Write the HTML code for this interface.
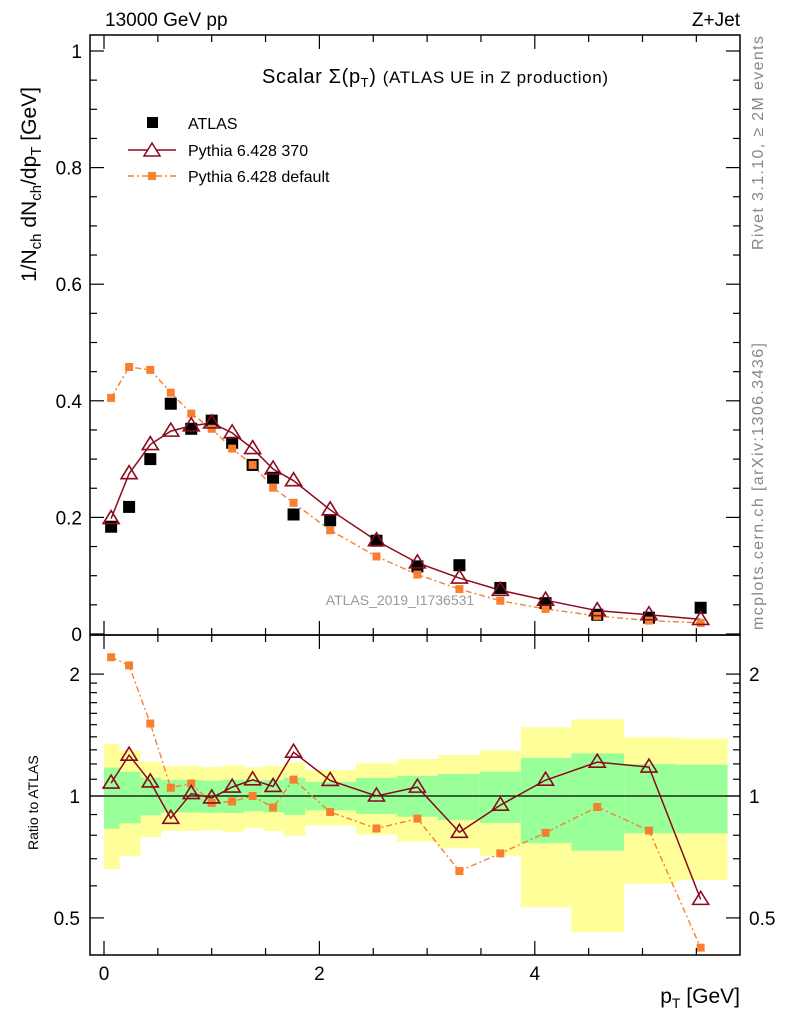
<!DOCTYPE html>
<html><head><meta charset="utf-8"><style>
body{margin:0;background:#fff;}
svg{display:block;font-family:"Liberation Sans",sans-serif;}
</style></head><body>
<svg id="c" width="786" height="1024" xmlns="http://www.w3.org/2000/svg">
<g id="bands"></g>
<g id="marks"></g>
<g id="axes"></g>
<text x="105" y="26" font-size="19">13000 GeV pp</text>
<text x="740" y="26" font-size="19" text-anchor="end">Z+Jet</text>
<text x="262" y="83" font-size="20" textLength="346">Scalar Σ(p<tspan font-size="13" dy="4">T</tspan><tspan dy="-4">) </tspan><tspan font-size="17">(ATLAS UE in Z production)</tspan></text>
<text x="400" y="605" font-size="14" fill="#999" text-anchor="middle">ATLAS_2019_I1736531</text>
<text transform="translate(763,250) rotate(-90)" font-size="16" fill="#888" textLength="214">Rivet 3.1.10, ≥ 2M events</text>
<text transform="translate(763,630) rotate(-90)" font-size="16" fill="#888" textLength="287">mcplots.cern.ch [arXiv:1306.3436]</text>
<text transform="translate(36,282) rotate(-90)" font-size="21">1/N<tspan font-size="15" dy="5">ch</tspan><tspan dy="-5"> dN</tspan><tspan font-size="15" dy="5">ch</tspan><tspan dy="-5">/dp</tspan><tspan font-size="15" dy="5">T</tspan><tspan dy="-5"> [GeV]</tspan></text>
<text transform="translate(38,850) rotate(-90)" font-size="14">Ratio to ATLAS</text>
<text x="740" y="1003" font-size="21" text-anchor="end">p<tspan font-size="14" dy="5">T</tspan><tspan dy="-5"> [GeV]</tspan></text>
<g>
<rect x="147" y="117" width="11" height="11" fill="#000"/>
<text x="188" y="129" font-size="16">ATLAS</text>
<line x1="128" y1="150" x2="176" y2="150" stroke="#8b0a1e" stroke-width="1.5"/>
<polygon points="152,143 160,156 144,156" fill="#fff" stroke="#8b0a1e" stroke-width="1.5"/>
<text x="188" y="156" font-size="16">Pythia 6.428 370</text>
<line x1="128" y1="176" x2="176" y2="176" stroke="#f68030" stroke-width="1.5" stroke-dasharray="6,3,2,3"/>
<rect x="148" y="172" width="8" height="8" fill="#f68030"/>
<text x="188" y="182" font-size="16">Pythia 6.428 default</text>
</g>
</svg>
<script>
const xVals=[0.066,0.233,0.43,0.62,0.81,1.0,1.19,1.38,1.57,1.76,2.1,2.53,2.91,3.3,3.68,4.1,4.58,5.06,5.54];
const atlas=[0.184,0.218,0.300,0.395,0.352,0.366,0.328,0.290,0.268,0.205,0.195,0.160,0.116,0.118,0.079,0.053,0.033,0.028,0.045];
const p370=[0.198,0.275,0.325,0.348,0.357,0.362,0.345,0.318,0.283,0.263,0.213,0.160,0.122,0.096,0.075,0.058,0.040,0.033,0.025];
const pdef=[0.405,0.458,0.453,0.414,0.378,0.352,0.318,0.290,0.251,0.225,0.178,0.133,0.102,0.077,0.057,0.043,0.031,0.023,0.019];
const binEdges=[0,0.144,0.34,0.53,0.73,0.91,1.10,1.30,1.48,1.67,1.87,2.34,2.72,3.10,3.49,3.87,4.34,4.83,5.31,5.79];
const yelHi=[1.344,1.294,1.213,1.186,1.186,1.179,1.191,1.177,1.186,1.211,1.159,1.204,1.234,1.262,1.294,1.478,1.546,1.396,1.388];
const yelLo=[0.660,0.712,0.792,0.820,0.820,0.824,0.816,0.834,0.820,0.798,0.845,0.803,0.771,0.743,0.712,0.531,0.461,0.607,0.620];
const grnHi=[1.175,1.148,1.110,1.095,1.095,1.091,1.097,1.095,1.095,1.110,1.083,1.108,1.121,1.133,1.148,1.241,1.274,1.200,1.195];
const grnLo=[0.830,0.856,0.896,0.911,0.911,0.909,0.908,0.917,0.911,0.898,0.922,0.903,0.889,0.872,0.858,0.765,0.733,0.809,0.809];
const xTicks=[0,2,4];
const yTicks=[0,0.2,0.4,0.6,0.8,1];
const yTickLabels=["0","0.2","0.4","0.6","0.8","1"];
const rTicks=[0.5,1,2];
const rTickLabels=["0.5","1","2"];

const NS="http://www.w3.org/2000/svg";
const L=90,R=740,T=35,MB=635,RB=955;
const X=v=>104+v*107.7;
const Y=v=>634-v*583;
const RY=r=>796-405*Math.log10(r);
function mk(p,tag,a){const e=document.createElementNS(NS,tag);for(const k in a)e.setAttribute(k,a[k]);p.appendChild(e);return e;}
const bands=document.getElementById('bands'),marks=document.getElementById('marks'),axes=document.getElementById('axes');

for(let i=0;i<binEdges.length-1;i++){
 const x1=X(binEdges[i]),x2=X(binEdges[i+1]);
 let e=mk(bands,'rect',{x:x1,y:RY(yelHi[i]),width:x2-x1,height:RY(yelLo[i])-RY(yelHi[i]),fill:'#ffff99'});
 
 
 e=mk(bands,'rect',{x:x1,y:RY(grnHi[i]),width:x2-x1,height:RY(grnLo[i])-RY(grnHi[i]),fill:'#99ff99'});
 
 
}
let e=mk(bands,'line',{x1:L,x2:R,y1:RY(1),y2:RY(1),stroke:'#000','stroke-width':1.2});



function tri(x,y,name){const s=mk(marks,'polygon',{points:`${x},${y-8} ${x+8},${y+5} ${x-8},${y+5}`,fill:'none',stroke:'#8b0a1e','stroke-width':1.6});
 
 }
function sq(x,y,s,c,name){const q=mk(marks,'rect',{x:x-s/2,y:y-s/2,width:s,height:s,fill:c});
 
 }
e=mk(marks,'polyline',{points:xVals.map((x,i)=>X(x)+','+Y(pdef[i])).join(' '),fill:'none',stroke:'#f68030','stroke-width':1.4,'stroke-dasharray':'6,3,2,3'});


e=mk(marks,'polyline',{points:xVals.map((x,i)=>X(x)+','+Y(p370[i])).join(' '),fill:'none',stroke:'#8b0a1e','stroke-width':1.5});


xVals.forEach((x,i)=>{sq(X(x),Y(atlas[i]),12,'#000','atlas-point');});
xVals.forEach((x,i)=>{sq(X(x),Y(pdef[i]),8,'#f68030','pythia-default-point');});
xVals.forEach((x,i)=>{tri(X(x),Y(p370[i]),'pythia-370-point');});
e=mk(marks,'polyline',{points:xVals.map((x,i)=>X(x)+','+RY(pdef[i]/atlas[i])).join(' '),fill:'none',stroke:'#f68030','stroke-width':1.4,'stroke-dasharray':'6,3,2,3'});


e=mk(marks,'polyline',{points:xVals.map((x,i)=>X(x)+','+RY(p370[i]/atlas[i])).join(' '),fill:'none',stroke:'#8b0a1e','stroke-width':1.5});


xVals.forEach((x,i)=>{sq(X(x),RY(pdef[i]/atlas[i]),8,'#f68030','ratio-default-point');});
xVals.forEach((x,i)=>{tri(X(x),RY(p370[i]/atlas[i]),'ratio-370-point');});

[[T,MB],[MB,RB]].forEach(([a,b])=>{const f=mk(axes,'rect',{x:L,y:a,width:R-L,height:b-a,fill:'none',stroke:'#000','stroke-width':1.5});
 
 });
function tk(x1,y1,x2,y2){mk(axes,'line',{x1,y1,x2,y2,stroke:'#000','stroke-width':1.2});}
for(let v=0;v<=5.9;v+=0.5){const big=Math.abs(v%2)<1e-6;const len=big?14:7;const x=X(v);
 tk(x,MB,x,MB-len);tk(x,T,x,T+len);tk(x,RB,x,RB-len);tk(x,MB,x,MB+len);}
xTicks.forEach((v,i)=>{const t=mk(axes,'text',{x:X(v),y:980,'font-size':19,'text-anchor':'middle'});t.textContent=String(v);
 
 });
for(let k=0;k<=20;k++){const v=k*0.05;const y=Y(v);if(y<T)continue;const len=k%4===0?14:7;tk(L,y,L+len,y);tk(R,y,R-len,y);}
yTicks.forEach((v,i)=>{const t=mk(axes,'text',{x:82,y:Y(v)+7,'font-size':19,'text-anchor':'end'});t.textContent=yTickLabels[i];
 
 });
[0.5,0.6,0.7,0.8,0.9,1,1.1,1.2,1.3,1.4,1.5,1.6,1.7,1.8,1.9,2].forEach(r=>{const y=RY(r);const big=[0.5,1,2].includes(r);const len=big?14:7;tk(L,y,L+len,y);tk(R,y,R-len,y);});
rTicks.forEach((v,i)=>{let t=mk(axes,'text',{x:80,y:RY(v)+7,'font-size':19,'text-anchor':'end'});t.textContent=rTickLabels[i];
 
 
 t=mk(axes,'text',{x:749,y:RY(v)+7,'font-size':19});t.textContent=rTickLabels[i];
 
 });
</script>
</body></html>
